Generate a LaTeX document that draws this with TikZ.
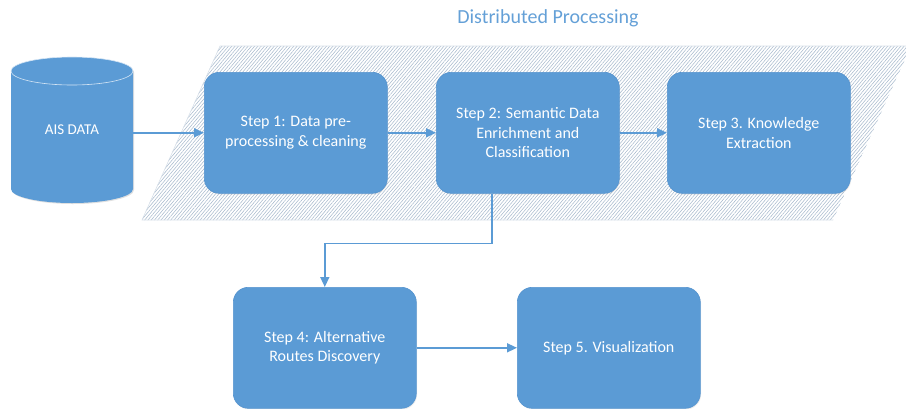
\documentclass[tikz,border=0pt]{standalone}
\usepackage{fontspec}
\setmainfont{Carlito}
\usetikzlibrary{arrows.meta,patterns.meta,shadows}

\definecolor{boxblue}{RGB}{91,155,213}
\definecolor{boxedge}{RGB}{86,148,207}
\definecolor{hatch}{RGB}{168,186,205}
\definecolor{titleblue}{RGB}{100,160,215}

\tikzset{
  stepbox/.style={draw=boxedge, line width=0.6pt, fill=boxblue, rounded corners=15pt,
    minimum width=183pt, minimum height=121pt, anchor=north west, inner sep=0pt,
    text=white, align=center, font=\fontsize{16}{19.5}\selectfont,
    drop shadow={opacity=0.15, shadow xshift=0.8pt, shadow yshift=-1.2pt}},
  flow/.style={draw=boxblue, line width=1.5pt, -{Triangle[length=10pt,width=9pt]}},
}

\begin{document}
\begin{tikzpicture}[x=1pt, y=-1pt]
  \useasboundingbox (0,0) rectangle (906,408);

  % hatched band for the distributed part of the pipeline
  \fill[pattern={Lines[angle=50, distance=2.5pt, line width=0.55pt]}, pattern color=hatch]
    (220,46) -- (911,46) -- (833,220) -- (142,220) -- cycle;
  \draw[hatch!45, line width=0.6pt] (911,46) -- (220,46) -- (142,220) -- (833,220);

  \node[text=titleblue, font=\fontsize{20}{22}\selectfont] (title) at (548,18) {Distributed Processing};

  % AIS data store drawn as a cylinder
  \fill[black, opacity=0.12] (12,72) -- (12,190) arc[start angle=180, end angle=360, x radius=61pt, y radius=14pt]
     -- (134,72) arc[start angle=0, end angle=180, x radius=61pt, y radius=14pt] -- cycle;
  \fill[boxblue] (11,71) -- (11,189) arc[start angle=180, end angle=360, x radius=61pt, y radius=14pt]
     -- (133,71) arc[start angle=0, end angle=180, x radius=61pt, y radius=14pt] -- cycle;
  \draw[white!75!boxblue, line width=0.6pt] (72,71) ellipse[x radius=61pt, y radius=14pt];
  \node[minimum width=122pt, minimum height=146pt, inner sep=0pt, text=white,
        font=\fontsize{15}{19}\selectfont] (ais) at (72,130) {AIS DATA};

  % processing steps
  \node[stepbox] (s1) at (204,72) {Step 1: Data pre-\\processing \& cleaning};
  \node[stepbox] (s2) at (436,72) {Step 2: Semantic Data\\Enrichment and\\Classification};
  \node[stepbox] (s3) at (667,72) {Step 3. Knowledge\\Extraction};
  \node[stepbox] (s4) at (233,287) {Step 4: Alternative\\Routes Discovery};
  \node[stepbox] (s5) at (517,287) {Step 5. Visualization};

  % connectors
  \draw[flow] (ais.east |- s1.west) -- (s1.west);
  \draw[flow] (s1.east) -- (s2.west);
  \draw[flow] (s2.east) -- (s3.west);
  \coordinate (s2out) at ([xshift=-36pt]s2.south);
  \draw[flow] (s2out) -- ++(0,50) -| (s4.north);
  \draw[flow] (s4.east) -- (s5.west);
\end{tikzpicture}
\end{document}
